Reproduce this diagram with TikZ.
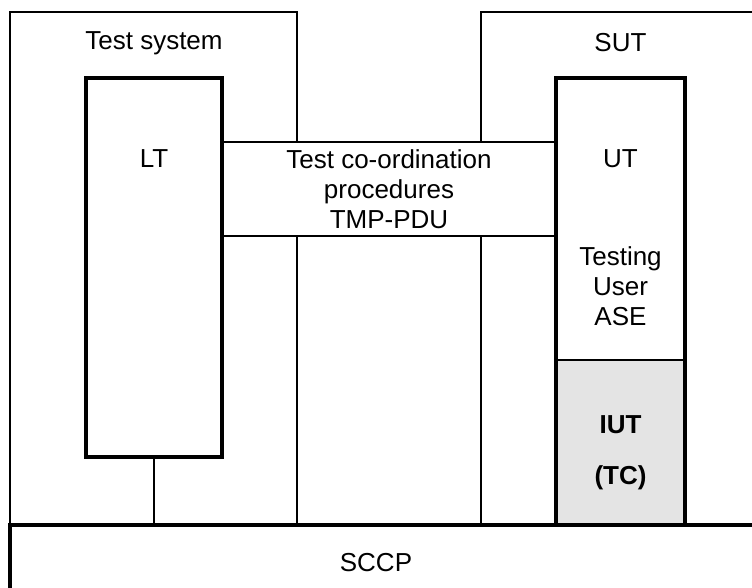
\documentclass[tikz,border=0pt]{standalone}
\usepackage{fontspec}
\setmainfont{Liberation Sans}
\usetikzlibrary{positioning}
\definecolor{iutgray}{HTML}{E4E4E4}

\begin{document}
\begin{tikzpicture}[x=0.5pt,y=-0.5pt,font=\fontsize{13}{15}\selectfont]
        % Setup the styles for the boxes
        \tikzset{thin line/.style={line width=0.65pt},
                 thick box/.style={draw, line width=1.75pt, inner sep=0pt},
                 thin box/.style={draw, thin line, inner sep=0pt}}
        \useasboundingbox (0,0) rectangle (752,588);
        \clip (0,0) rectangle (752,588);

        % Outer frames
        \draw[thin line] (10,525) |- (297,12) -- (297,525);
        \draw[thin line] (481,525) |- (780,12);

        % Draw the boxes
        \node[thin box, fill=white, minimum width=167pt, minimum height=47pt, align=center] at (389,189) (coord)
              {Test co-ordination\\procedures\\TMP-PDU};
        \node[thick box, minimum width=395pt, minimum height=57.5pt] at (405,582.5) (sccp) {};
        \node[thick box, minimum width=68pt, minimum height=189.5pt] at (154,267.5) (lt) {};
        \node[thin box, fill=iutgray, minimum width=64.5pt, minimum height=82.5pt] at (620.5,442.5) (iut) {};
        \node[thick box, minimum width=64.5pt, minimum height=223.5pt] at (620.5,301.5) (ut) {};

        % Labels
        \node at (154,43) (tsys) {Test system};
        \node at (620.5,43) (sut) {SUT};
        \node at (154,159) (ltlabel) {LT};
        \node at (620.5,159) (utlabel) {UT};
        \node[align=center] at (620.5,286) (ase) {Testing\\User\\ASE};
        \node[font=\fontsize{13}{15}\selectfont\bfseries] at (620.5,425) (iutlabel) {IUT};
        \node[font=\fontsize{13}{15}\selectfont\bfseries] at (620.5,478) (tclabel) {(TC)};
        \node at (376,563) (sccplabel) {SCCP};

        % Connect LT to SCCP
        \draw[thin line] (lt.south) -- (lt.south |- sccp.north);
\end{tikzpicture}
\end{document}
